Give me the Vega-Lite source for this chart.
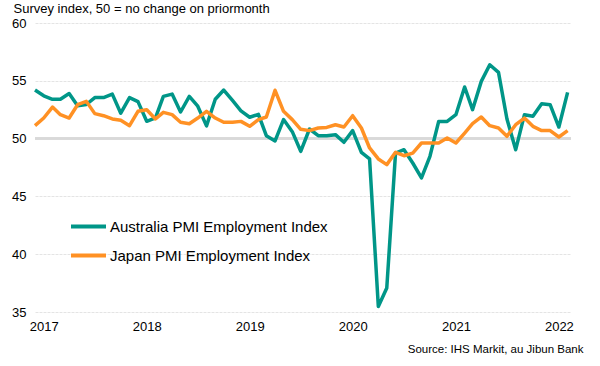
{
  "$schema": "https://vega.github.io/schema/vega-lite/v6.json",
  "width": 536,
  "height": 289,
  "autosize": {"type": "none"},
  "padding": {"left": 35, "top": 23, "right": 29, "bottom": 54},
  "background": "white",
  "config": {
    "view": {"stroke": null},
    "font": "Liberation Sans",
    "axis": {"labelFont": "Liberation Sans", "titleFont": "Liberation Sans", "labelColor": "#000000", "titleColor": "#000000"}
  },
  "data": {
    "values": [
      {"month": "2016/12/01", "Australia PMI Employment Index": 54.2, "Japan PMI Employment Index": 51.12},
      {"month": "2017/01/01", "Australia PMI Employment Index": 53.7, "Japan PMI Employment Index": 51.78},
      {"month": "2017/02/01", "Australia PMI Employment Index": 53.4, "Japan PMI Employment Index": 52.73},
      {"month": "2017/03/01", "Australia PMI Employment Index": 53.4, "Japan PMI Employment Index": 52.07},
      {"month": "2017/04/01", "Australia PMI Employment Index": 53.9, "Japan PMI Employment Index": 51.78},
      {"month": "2017/05/01", "Australia PMI Employment Index": 52.85, "Japan PMI Employment Index": 52.93},
      {"month": "2017/06/01", "Australia PMI Employment Index": 52.95, "Japan PMI Employment Index": 53.22},
      {"month": "2017/07/01", "Australia PMI Employment Index": 53.55, "Japan PMI Employment Index": 52.16},
      {"month": "2017/08/01", "Australia PMI Employment Index": 53.55, "Japan PMI Employment Index": 51.98},
      {"month": "2017/09/01", "Australia PMI Employment Index": 53.85, "Japan PMI Employment Index": 51.7},
      {"month": "2017/10/01", "Australia PMI Employment Index": 52.2, "Japan PMI Employment Index": 51.58},
      {"month": "2017/11/01", "Australia PMI Employment Index": 53.55, "Japan PMI Employment Index": 51.12},
      {"month": "2017/12/01", "Australia PMI Employment Index": 53.2, "Japan PMI Employment Index": 52.36},
      {"month": "2018/01/01", "Australia PMI Employment Index": 51.5, "Japan PMI Employment Index": 52.5},
      {"month": "2018/02/01", "Australia PMI Employment Index": 51.8, "Japan PMI Employment Index": 51.7},
      {"month": "2018/03/01", "Australia PMI Employment Index": 53.65, "Japan PMI Employment Index": 52.27},
      {"month": "2018/04/01", "Australia PMI Employment Index": 53.85, "Japan PMI Employment Index": 52.07},
      {"month": "2018/05/01", "Australia PMI Employment Index": 52.3, "Japan PMI Employment Index": 51.41},
      {"month": "2018/06/01", "Australia PMI Employment Index": 53.65, "Japan PMI Employment Index": 51.29},
      {"month": "2018/07/01", "Australia PMI Employment Index": 52.8, "Japan PMI Employment Index": 51.78},
      {"month": "2018/08/01", "Australia PMI Employment Index": 51.1, "Japan PMI Employment Index": 52.36},
      {"month": "2018/09/01", "Australia PMI Employment Index": 53.4, "Japan PMI Employment Index": 51.78},
      {"month": "2018/10/01", "Australia PMI Employment Index": 54.2, "Japan PMI Employment Index": 51.41},
      {"month": "2018/11/01", "Australia PMI Employment Index": 53.3, "Japan PMI Employment Index": 51.41},
      {"month": "2018/12/01", "Australia PMI Employment Index": 52.4, "Japan PMI Employment Index": 51.49},
      {"month": "2019/01/01", "Australia PMI Employment Index": 51.85, "Japan PMI Employment Index": 51.06},
      {"month": "2019/02/01", "Australia PMI Employment Index": 52.1, "Japan PMI Employment Index": 51.64},
      {"month": "2019/03/01", "Australia PMI Employment Index": 50.25, "Japan PMI Employment Index": 51.87},
      {"month": "2019/04/01", "Australia PMI Employment Index": 49.8, "Japan PMI Employment Index": 54.18},
      {"month": "2019/05/01", "Australia PMI Employment Index": 51.65, "Japan PMI Employment Index": 52.36},
      {"month": "2019/06/01", "Australia PMI Employment Index": 50.6, "Japan PMI Employment Index": 51.64},
      {"month": "2019/07/01", "Australia PMI Employment Index": 48.9, "Japan PMI Employment Index": 50.8},
      {"month": "2019/08/01", "Australia PMI Employment Index": 50.83, "Japan PMI Employment Index": 50.69},
      {"month": "2019/09/01", "Australia PMI Employment Index": 50.25, "Japan PMI Employment Index": 50.92},
      {"month": "2019/10/01", "Australia PMI Employment Index": 50.25, "Japan PMI Employment Index": 50.97},
      {"month": "2019/11/01", "Australia PMI Employment Index": 50.34, "Japan PMI Employment Index": 51.2},
      {"month": "2019/12/01", "Australia PMI Employment Index": 49.68, "Japan PMI Employment Index": 51.0},
      {"month": "2020/01/01", "Australia PMI Employment Index": 50.69, "Japan PMI Employment Index": 51.98},
      {"month": "2020/02/01", "Australia PMI Employment Index": 48.81, "Japan PMI Employment Index": 50.92},
      {"month": "2020/03/01", "Australia PMI Employment Index": 48.24, "Japan PMI Employment Index": 49.19},
      {"month": "2020/04/01", "Australia PMI Employment Index": 35.48, "Japan PMI Employment Index": 48.24},
      {"month": "2020/05/01", "Australia PMI Employment Index": 37.08, "Japan PMI Employment Index": 47.75},
      {"month": "2020/06/01", "Australia PMI Employment Index": 48.75, "Japan PMI Employment Index": 48.81},
      {"month": "2020/07/01", "Australia PMI Employment Index": 49.04, "Japan PMI Employment Index": 48.52},
      {"month": "2020/08/01", "Australia PMI Employment Index": 47.89, "Japan PMI Employment Index": 48.75},
      {"month": "2020/09/01", "Australia PMI Employment Index": 46.6, "Japan PMI Employment Index": 49.62},
      {"month": "2020/10/01", "Australia PMI Employment Index": 48.47, "Japan PMI Employment Index": 49.62},
      {"month": "2020/11/01", "Australia PMI Employment Index": 51.49, "Japan PMI Employment Index": 49.62},
      {"month": "2020/12/01", "Australia PMI Employment Index": 51.49, "Japan PMI Employment Index": 50.05},
      {"month": "2021/01/01", "Australia PMI Employment Index": 52.07, "Japan PMI Employment Index": 49.62},
      {"month": "2021/02/01", "Australia PMI Employment Index": 54.46, "Japan PMI Employment Index": 50.48},
      {"month": "2021/03/01", "Australia PMI Employment Index": 52.5, "Japan PMI Employment Index": 51.29},
      {"month": "2021/04/01", "Australia PMI Employment Index": 54.95, "Japan PMI Employment Index": 51.87},
      {"month": "2021/05/01", "Australia PMI Employment Index": 56.39, "Japan PMI Employment Index": 51.12},
      {"month": "2021/06/01", "Australia PMI Employment Index": 55.73, "Japan PMI Employment Index": 50.92},
      {"month": "2021/07/01", "Australia PMI Employment Index": 51.7, "Japan PMI Employment Index": 50.2},
      {"month": "2021/08/01", "Australia PMI Employment Index": 49.04, "Japan PMI Employment Index": 51.2},
      {"month": "2021/09/01", "Australia PMI Employment Index": 52.07, "Japan PMI Employment Index": 51.78},
      {"month": "2021/10/01", "Australia PMI Employment Index": 51.93, "Japan PMI Employment Index": 51.06},
      {"month": "2021/11/01", "Australia PMI Employment Index": 53.02, "Japan PMI Employment Index": 50.69},
      {"month": "2021/12/01", "Australia PMI Employment Index": 52.93, "Japan PMI Employment Index": 50.69},
      {"month": "2022/01/01", "Australia PMI Employment Index": 51.0, "Japan PMI Employment Index": 50.14},
      {"month": "2022/02/01", "Australia PMI Employment Index": 54.0, "Japan PMI Employment Index": 50.69}
    ]
  },
  "transform": [
    {"fold": ["Australia PMI Employment Index", "Japan PMI Employment Index"], "as": ["series", "value"]}
  ],
  "layer": [
    {
      "mark": {"type": "rule", "color": "#d9d9d9", "strokeWidth": 2},
      "encoding": {"y": {"datum": 50, "type": "quantitative"}}
    },
    {
      "mark": {"type": "line", "strokeWidth": 3.5, "strokeJoin": "round", "strokeCap": "butt"},
      "encoding": {
        "x": {
          "field": "month",
          "type": "temporal",
          "scale": {"domain": [{"year": 2016, "month": 12, "date": 1}, {"year": 2022, "month": 2, "date": 13}]},
          "axis": {
            "values": [{"year": 2017, "month": 1, "date": 1}, {"year": 2018, "month": 1, "date": 1}, {"year": 2019, "month": 1, "date": 1}, {"year": 2020, "month": 1, "date": 1}, {"year": 2021, "month": 1, "date": 1}, {"year": 2022, "month": 1, "date": 1}],
            "format": "%Y",
            "grid": false,
            "domain": false,
            "ticks": false,
            "tickSize": 0,
            "labelFontSize": 13,
            "labelPadding": 8,
            "labelFlush": false,
            "title": "Source: IHS Markit, au Jibun Bank",
            "titleFontSize": 11.5,
            "titleFontWeight": "normal",
            "titleAnchor": null,
            "titleAlign": "right",
            "titleBaseline": "alphabetic",
            "titleX": 548,
            "titleY": 40
          }
        },
        "y": {
          "field": "value",
          "type": "quantitative",
          "scale": {"domain": [35, 60], "nice": false, "zero": false},
          "axis": {
            "values": [35, 40, 45, 50, 55, 60],
            "grid": true,
            "gridColor": "#e4e4e4",
            "gridWidth": 1,
            "gridDash": [3, 1],
            "domain": false,
            "ticks": false,
            "tickSize": 0,
            "labelFontSize": 13,
            "labelPadding": 9,
            "title": "Survey index, 50 = no change on priormonth",
            "titleFontSize": 13,
            "titleFontWeight": "normal",
            "titleAngle": 0,
            "titleAlign": "left",
            "titleBaseline": "alphabetic",
            "titleAnchor": null,
            "titleX": -22,
            "titleY": -10.5
          }
        },
        "color": {
          "field": "series",
          "type": "nominal",
          "scale": {"domain": ["Australia PMI Employment Index", "Japan PMI Employment Index"], "range": ["#009688", "#ff9124"]},
          "legend": {
            "title": null,
            "orient": "none",
            "legendX": 34,
            "legendY": 184,
            "direction": "vertical",
            "symbolType": "stroke",
            "symbolSize": 1225,
            "symbolStrokeWidth": 4,
            "labelFont": "Liberation Sans",
            "labelFontSize": 15,
            "labelColor": "#000000",
            "labelOffset": 2,
            "labelLimit": 0,
            "rowPadding": 1,
            "padding": 0
          }
        }
      }
    }
  ]
}
